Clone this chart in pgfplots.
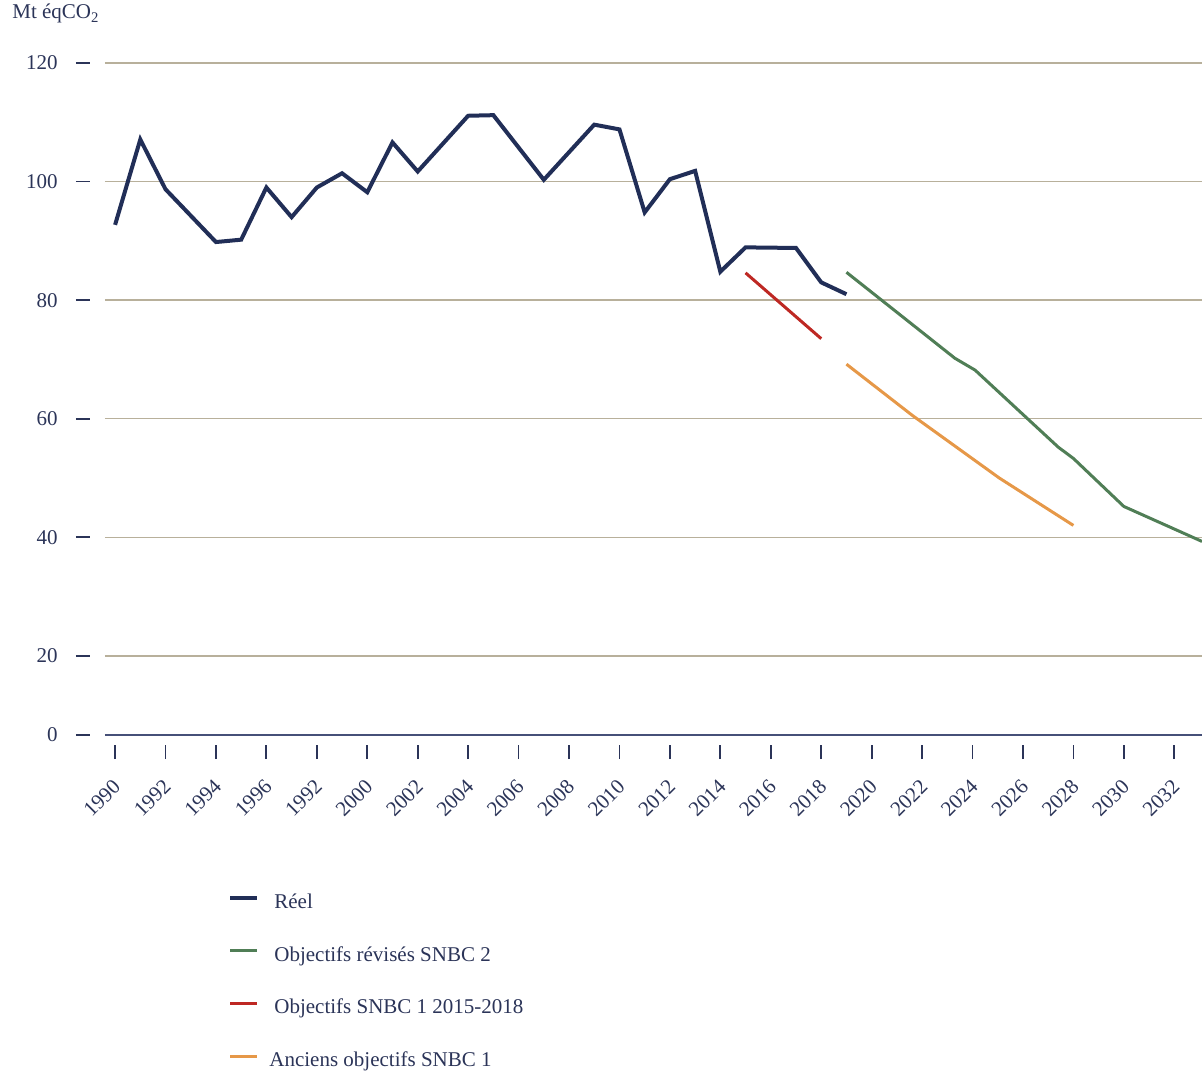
\documentclass[border=0pt]{standalone}
\usepackage{fontspec}
\setmainfont{Liberation Serif}
\usepackage{pgfplots}
\pgfplotsset{compat=1.18}
\definecolor{navy}{RGB}{33,46,87}
\definecolor{txt}{RGB}{43,52,88}
\definecolor{grn}{RGB}{80,126,86}
\definecolor{rd}{RGB}{190,40,35}
\definecolor{org}{RGB}{230,152,72}
\definecolor{gridc}{RGB}{184,176,155}
\definecolor{axc}{RGB}{70,80,120}
\begin{document}
\begin{tikzpicture}
\begin{axis}[
  scale only axis, width=548.5pt, height=336pt,
  xmin=1989.6, xmax=2033.1, ymin=6.65, ymax=120,
  axis x line*=bottom, axis y line*=left,
  x axis line style={axc, line width=1pt, -},
  y axis line style={draw=none},
  tick pos=left,
  xtick={1990,1992,...,2032},
  xticklabels={1990,1992,1994,1996,1992,2000,2002,2004,2006,2008,2010,2012,2014,2016,2018,2020,2022,2024,2026,2028,2030,2032},
  ytick={6.65,20,40,60,80,100,120},
  yticklabels={0,20,40,60,80,100,120},
  tick align=outside, major tick length=7pt,
  xtick style={txt, line width=0.9pt, yshift=-5pt},
  ytick style={txt, line width=0.9pt, xshift=-7.5pt},
  ymajorgrids, grid style={gridc, line width=0.75pt},
  ticklabel style={font=\fontsize{10.5}{12}\selectfont, text=txt, inner sep=0pt},
  yticklabel style={xshift=-16.5pt},
  xticklabel style={xshift=1pt, yshift=-17pt, rotate=45, anchor=east},
  /pgf/number format/assume math mode=true,
  title={Mt éqCO\textsubscript{2}},
  title style={at={(0,1)}, anchor=base west, xshift=-46.5pt, yshift=16pt, inner sep=0pt, font=\fontsize{10.5}{12}\selectfont, text=txt},
  legend style={draw=none, fill=none, at={(0,0)}, anchor=north west, xshift=61.5pt, yshift=-79.5pt, inner sep=0pt, row sep=17.35pt, column sep=7.5pt, nodes={inner sep=0pt, text height=7pt, text depth=2pt, font=\fontsize{10.5}{12}\selectfont, text=txt}},
  legend cell align=left,
  legend image code/.code={\draw[#1, line cap=butt] (0pt,2.6pt) -- (13.5pt,2.6pt);},
]
\addplot[navy, line width=2pt] coordinates {
(1990,92.7) (1991,107.1) (1992,98.7) (1994,89.8) (1995,90.2) (1996,99.0) (1997,94.0) (1998,99.0) (1999,101.4) (2000,98.2) (2001,106.6) (2002,101.7) (2004,111.1) (2005,111.2) (2007,100.3) (2009,109.6) (2010,108.8) (2011,94.8) (2012,100.4) (2013,101.8) (2014,84.8) (2015,88.9) (2017,88.8) (2018,83.0) (2019,81.0)};
\addlegendentry{Réel}
\addplot[grn, line width=1.5pt] coordinates {
(2019,84.7) (2023.3,70.2) (2024.1,68.2) (2027.4,55.2) (2028,53.3) (2030,45.2) (2033.1,39.3)};
\addlegendentry{Objectifs révisés SNBC 2}
\addplot[rd, line width=1.5pt] coordinates {(2015,84.6) (2018,73.5)};
\addlegendentry{Objectifs SNBC 1 2015-2018}
\addplot[org, line width=1.5pt] coordinates {(2019,69.2) (2021.6,60.6) (2025.06,50.0) (2028,42.0)};
\addlegendentry{\hspace{-2.5pt}Anciens objectifs SNBC 1}
\end{axis}
\pgfresetboundingbox
\path[use as bounding box] (-52.5pt,-167.5pt) rectangle (548.5pt,367.5pt);
\end{tikzpicture}
\end{document}
